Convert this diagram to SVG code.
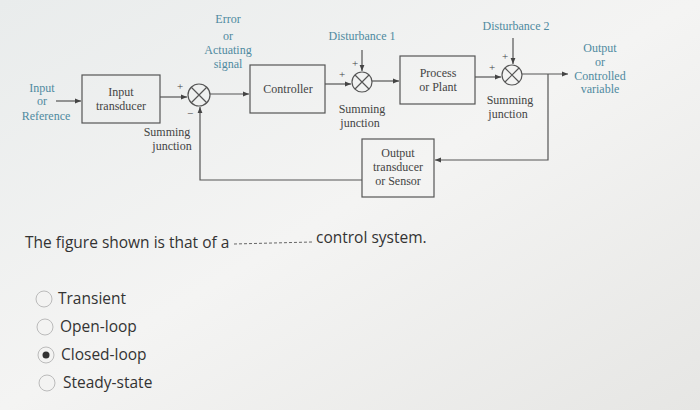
<svg xmlns="http://www.w3.org/2000/svg" width="700" height="410" viewBox="0 0 700 410">
<defs>
<marker id="a" viewBox="0 0 10 10" refX="10" refY="5" markerWidth="7" markerHeight="5" orient="auto"><path d="M0,1 L10,5 L0,9 z" fill="#444"/></marker>
<linearGradient id="bg" x1="0" y1="0" x2="1" y2="1"><stop offset="0" stop-color="#e9ecec"/><stop offset="0.5" stop-color="#f4f4f3"/><stop offset="1" stop-color="#e6e6e4"/></linearGradient>
</defs>
<style>
.b{fill:none;stroke:#555;stroke-width:1.2}
.l{fill:none;stroke:#555;stroke-width:1.2}
.t{font-family:"Liberation Serif",serif;font-size:12px;fill:#444;text-anchor:middle}
.c{font-family:"Liberation Serif",serif;font-size:12px;fill:#4f8aa0;text-anchor:middle}
.s{font-family:"Liberation Serif",serif;font-size:11px;fill:#444;text-anchor:middle}
.q{font-family:"Open Sans","Liberation Sans",sans-serif;font-size:15.5px;fill:#333}
</style>
<rect width="700" height="410" fill="url(#bg)"/>
<g id="labels">
<text class="c" x="42" y="92">Input</text><text class="c" x="42" y="105">or</text><text class="c" x="46" y="120">Reference</text>
<text class="c" x="228" y="23">Error</text><text class="c" x="228" y="40">or</text><text class="c" x="228" y="54">Actuating</text><text class="c" x="228" y="68">signal</text>
<text class="c" x="362" y="40">Disturbance 1</text>
<text class="c" x="516" y="30">Disturbance 2</text>
<text class="c" x="600" y="52">Output</text><text class="c" x="600" y="66">or</text><text class="c" x="600" y="80">Controlled</text><text class="c" x="600" y="93">variable</text>
<text class="t" x="167" y="136">Summing</text><text class="t" x="172" y="150">junction</text>
<text class="t" x="362" y="113">Summing</text><text class="t" x="360" y="127">junction</text>
<text class="t" x="510" y="104">Summing</text><text class="t" x="508" y="118">junction</text>
</g>
<g id="inputTransducer"><rect class="b" x="82" y="75" width="78" height="48"/><text class="t" x="121" y="96">Input</text><text class="t" x="121" y="110">transducer</text></g>
<g id="sum1"><circle class="b" cx="199" cy="95" r="11"/><path class="l" d="M191,87 L207,103 M207,87 L191,103"/><text class="s" x="180" y="90">+</text><text class="s" x="190" y="117">−</text></g>
<g id="controller"><rect class="b" x="250" y="65" width="75" height="48"/><text class="t" x="288" y="93">Controller</text></g>
<g id="sum2"><circle class="b" cx="362" cy="82" r="10"/><path class="l" d="M355,75 L369,89 M369,75 L355,89"/><text class="s" x="342" y="78">+</text><text class="s" x="355" y="67">+</text></g>
<g id="process"><rect class="b" x="400" y="56" width="75" height="48"/><text class="t" x="438" y="77">Process</text><text class="t" x="438" y="91">or Plant</text></g>
<g id="sum3"><circle class="b" cx="512" cy="75" r="10"/><path class="l" d="M505,68 L519,82 M519,68 L505,82"/><text class="s" x="492" y="71">+</text><text class="s" x="505" y="60">+</text></g>
<g id="sensor"><rect class="b" x="362" y="139" width="72" height="58"/><text class="t" x="398" y="157">Output</text><text class="t" x="398" y="171">transducer</text><text class="t" x="398" y="185">or Sensor</text></g>
<g id="connectors">
<path class="l" d="M56,101 H81" marker-end="url(#a)"/>
<path class="l" d="M160,97 H187" marker-end="url(#a)"/>
<path class="l" d="M210,94 H249" marker-end="url(#a)"/>
<path class="l" d="M325,84 H351" marker-end="url(#a)"/>
<path class="l" d="M372,81 H399" marker-end="url(#a)"/>
<path class="l" d="M475,77 H501" marker-end="url(#a)"/>
<path class="l" d="M522,74 H568" marker-end="url(#a)"/>
<path class="l" d="M362,50 V71" marker-end="url(#a)"/>
<path class="l" d="M513,38 V64" marker-end="url(#a)"/>
<path class="l" d="M548,74 V160 H435" marker-end="url(#a)"/>
<path class="l" d="M362,180 H200 V107" marker-end="url(#a)"/>
</g>
<g id="question">
<text class="q" x="25" y="248">The figure shown is that of a</text>
<line x1="234" y1="244" x2="312" y2="242" stroke="#666" stroke-dasharray="3,2"/>
<text class="q" x="316" y="243">control system.</text>
<g fill="#f3f3f2" stroke="#bbb"><circle cx="44" cy="299" r="8"/><circle cx="45" cy="327" r="8"/><circle cx="46" cy="355" r="8"/><circle cx="47" cy="383" r="8"/></g>
<circle cx="46" cy="355" r="3.5" fill="#333"/>
<text class="q" x="58" y="304">Transient</text>
<text class="q" x="60" y="332">Open-loop</text>
<text class="q" x="61" y="360">Closed-loop</text>
<text class="q" x="63" y="388">Steady-state</text>
</g>
</svg>
